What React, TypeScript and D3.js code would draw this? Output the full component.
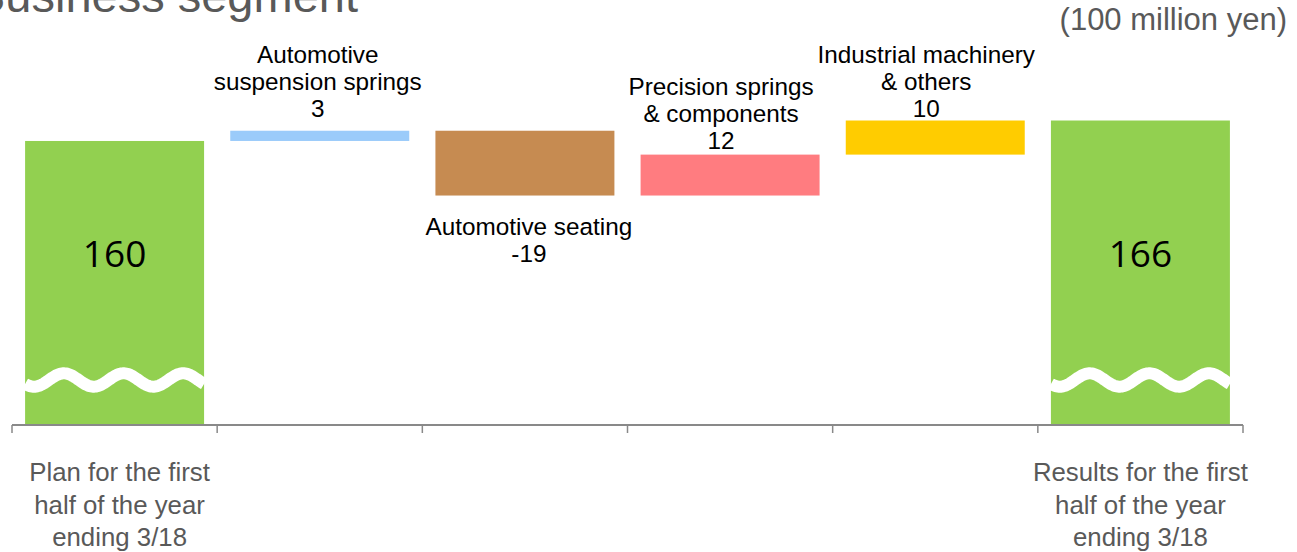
import React from "react";
import * as d3 from "d3";

// ---- data (100 million yen) ----
const startLabel = ["Plan for the first", "half of the year", "ending 3/18"];
const endLabel = ["Results for the first", "half of the year", "ending 3/18"];
const startValue = 160;
const endValue = 166;
const segmentNames = [
  ["Automotive", "suspension springs"],
  ["Automotive seating"],
  ["Precision springs", "& components"],
  ["Industrial machinery", "& others"],
];
const segmentDeltas = [3, -19, 12, 10];
const segmentColors = ["#9BCBFA", "#C68B51", "#FF7C80", "#FFCC00"];
const totalColor = "#92D050";
const titleText = "Business segment";
const unitText = "(100 million yen)";

// ---- layout ----
const W = 1297;
const H = 552;
const axisY = 424;
const pxPerUnit = 3.41;
const yFloor = 77;
const labelGap = [0, 14, 39, 6, 4, 0]; // distance between a segment bar and its label block
const labelDx = [0, -2, 4, -9, -9, 0];
const axisLabelDx = [5, 0, 0, 0, 0, 0];
const annoFont = "Arial, 'Liberation Sans', sans-serif";

export default function App() {
  const n = segmentDeltas.length + 2;
  const x = d3
    .scaleBand<number>()
    .domain(d3.range(n))
    .range([12, 1243])
    .paddingInner(0.1276)
    .paddingOuter(0.0638);
  const yTop = 170;
  const y = d3
    .scaleLinear()
    .domain([yFloor, yTop])
    .range([axisY, axisY - (yTop - yFloor) * pxPerUnit]);

  // running totals for the floating bars
  const steps: { i: number; from: number; to: number; color: string; delta: number }[] = [];
  let run = startValue;
  segmentDeltas.forEach((d, k) => {
    steps.push({ i: k + 1, from: run, to: run + d, color: segmentColors[k], delta: d });
    run += d;
  });

  const bw = x.bandwidth();
  const x0Range = x.range()[0];
  const step = x.step();

  // white "axis break" wave drawn across the total bars
  const waveMid = axisY - 44;
  const waveAmp = 6.7;
  const wavePeriod = bw / 3;
  const wavePath = (bx: number) => {
    const pts = d3.range(0, bw + 0.5, 1).map((t) => [
      bx + t,
      waveMid - waveAmp * Math.cos((2 * Math.PI * (t - wavePeriod * 0.65)) / wavePeriod),
    ]) as [number, number][];
    return d3.line()(pts) || "";
  };

  const totals = [
    { i: 0, value: startValue, lines: startLabel },
    { i: n - 1, value: endValue, lines: endLabel },
  ];

  const lineH = 27;
  const annoSize = 24.3;

  return (
    <svg
      width={W}
      height={H}
      style={{ position: "absolute", left: 0, top: 0, background: "#fff" }}
    >
      <text
        x={358}
        y={12}
        textAnchor="end"
        fontFamily={annoFont}
        fontSize={47}
        fill="#595959"
      >
        {titleText}
      </text>
      <text
        x={1287}
        y={30}
        textAnchor="end"
        fontFamily={annoFont}
        fontSize={31}
        fill="#595959"
      >
        {unitText}
      </text>

      {/* total bars */}
      {totals.map((t) => {
        const bx = x(t.i)!;
        const cx = bx + bw / 2;
        return (
          <g key={"t" + t.i}>
            <rect x={bx} y={y(t.value)} width={bw} height={axisY - y(t.value)} fill={totalColor} />
            <path d={wavePath(bx)} fill="none" stroke="#fff" strokeWidth={12} />
            <text
              x={cx}
              y={267}
              textAnchor="middle"
              fontFamily="'Open Sans', sans-serif"
              fontSize={37}
              fill="#000"
            >
              {t.value}
            </text>
          </g>
        );
      })}

      {/* floating segment bars */}
      {steps.map((s, k) => {
        const bx = x(s.i)!;
        const top = y(Math.max(s.from, s.to));
        const bottom = y(Math.min(s.from, s.to));
        const cx = bx + bw / 2 + labelDx[s.i];
        const lines = [...segmentNames[k], String(s.delta)];
        const gap = labelGap[s.i];
        const firstBaseline =
          s.delta >= 0 ? top - gap - (lines.length - 1) * lineH : bottom + gap;
        return (
          <g key={"s" + s.i}>
            <rect x={bx} y={top} width={bw} height={bottom - top} fill={s.color} />
            <text textAnchor="middle" fontFamily={annoFont} fontSize={annoSize} fill="#000">
              {lines.map((l, j) => (
                <tspan key={j} x={cx} y={firstBaseline + j * lineH}>
                  {l}
                </tspan>
              ))}
            </text>
          </g>
        );
      })}

      {/* category axis */}
      <line x1={x0Range} x2={x.range()[1]} y1={axisY + 1} y2={axisY + 1} stroke="#898989" strokeWidth={2} />
      {d3.range(n + 1).map((i) => (
        <line
          key={"k" + i}
          x1={x0Range + i * step}
          x2={x0Range + i * step}
          y1={axisY + 1}
          y2={axisY + 9}
          stroke="#898989"
          strokeWidth={1.5}
        />
      ))}
      {totals.map((t) => (
        <text
          key={"a" + t.i}
          textAnchor="middle"
          fontFamily={annoFont}
          fontSize={25.8}
          fill="#595959"
        >
          {t.lines.map((l, j) => (
            <tspan key={j} x={x(t.i)! + bw / 2 + axisLabelDx[t.i]} y={481 + j * 32.5}>
              {l}
            </tspan>
          ))}
        </text>
      ))}
    </svg>
  );
}
